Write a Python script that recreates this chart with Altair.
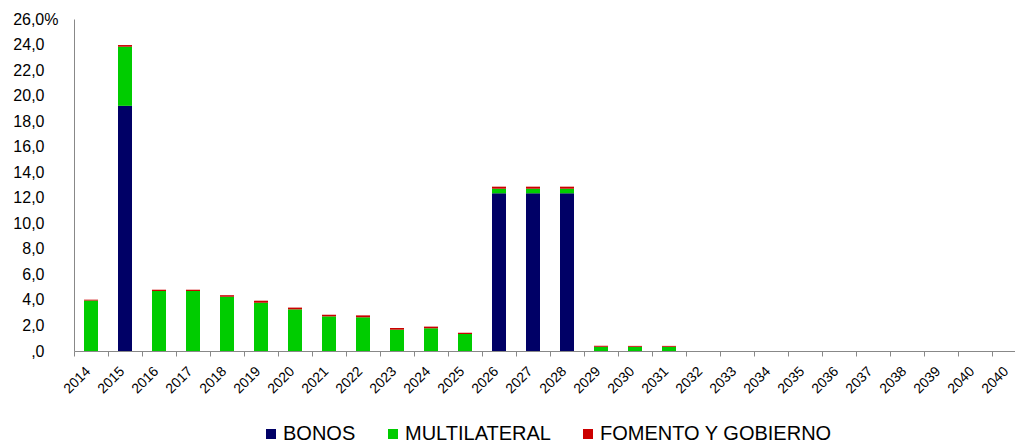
import altair as alt
import pandas as pd

years = ["2014", "2015", "2016", "2017", "2018", "2019", "2020", "2021", "2022",
         "2023", "2024", "2025", "2026", "2027", "2028", "2029", "2030", "2031",
         "2032", "2033", "2034", "2035", "2036", "2037", "2038", "2039", "2040", "2040"]
bonos = [0, 19.2, 0, 0, 0, 0, 0, 0, 0, 0, 0, 0, 12.35, 12.35, 12.35, 0, 0, 0,
         0, 0, 0, 0, 0, 0, 0, 0, 0, 0]
multilateral = [3.95, 4.63, 4.70, 4.70, 4.25, 3.78, 3.26, 2.71, 2.64, 1.67, 1.78, 1.33,
                0.36, 0.36, 0.36, 0.33, 0.33, 0.33, 0, 0, 0, 0, 0, 0, 0, 0, 0, 0]
fomento = [0.07, 0.13, 0.10, 0.10, 0.12, 0.16, 0.14, 0.13, 0.15, 0.13, 0.13, 0.10,
           0.16, 0.16, 0.16, 0.08, 0.07, 0.07, 0, 0, 0, 0, 0, 0, 0, 0, 0, 0]

series = ["BONOS", "MULTILATERAL", "FOMENTO Y GOBIERNO"]
colors = ["#000066", "#00CC00", "#CC0000"]
y_ticks = list(range(0, 27, 2))

rows = []
for i, y in enumerate(years):
    for k, (name, vals) in enumerate(zip(series, [bonos, multilateral, fomento])):
        rows.append({"idx": i, "serie": name, "orden": k, "valor": vals[i]})
df = pd.DataFrame(rows)

label_arr = "[" + ",".join("'" + y + "'" for y in years) + "]"
font = "Liberation Sans"

x_enc = alt.X(
    "idx:O",
    scale=alt.Scale(range=[0, 952], paddingInner=0, paddingOuter=0),
    axis=alt.Axis(
        title=None,
        labelExpr=label_arr + "[datum.value]",
        labelAngle=-45,
        labelAlign="right",
        labelBaseline="top",
        labelFontSize=14,
        labelFont=font,
        labelColor="#000000",
        labelPadding=8,
        labelOffset=-8,
        tickBand="extent",
        tickSize=5,
        tickColor="#888888",
        domainColor="#888888",
        grid=False,
        labelOverlap=False,
    ),
)

chart = alt.Chart(df).mark_bar(size=14).encode(
    x=x_enc,
    y=alt.Y(
        "valor:Q",
        stack="zero",
        scale=alt.Scale(domain=[0, 26], nice=False),
        axis=alt.Axis(
            title=None,
            values=y_ticks,
            labelExpr="datum.value == 0 ? ',0' : datum.value == 26 ? '26,0%' : replace(format(datum.value, '.1f'), '.', ',')",
            labelFontSize=16,
            labelFont=font,
            labelColor="#000000",
            labelPadding={"condition": {"test": "datum.value == 26", "value": 16}, "value": 30},
            labelOverlap=False,
            labelBound=False,
            labelFlush=False,
            tickSize=0,
            domainColor="#888888",
            grid=False,
        ),
    ),
    color=alt.Color(
        "serie:N",
        scale=alt.Scale(domain=series, range=colors),
        legend=alt.Legend(
            title=None,
            orient="none",
            direction="horizontal",
            legendX=187,
            legendY=405,
            symbolType="square",
            symbolSize=100,
            symbolStrokeWidth=0,
            labelFontSize=20,
            labelFont=font,
            labelColor="#000000",
            labelOffset=2,
            labelLimit=0,
            columnPadding=27,
            padding=0,
        ),
    ),
    order=alt.Order("orden:Q"),
).properties(
    width=941,
    height=332,
    autosize=alt.AutoSizeParams(type="none"),
    padding={"left": 74, "top": 19, "right": 0, "bottom": 92},
).configure_view(stroke=None)

chart.save("out.html", embed_options={"renderer": "svg", "actions": False})
